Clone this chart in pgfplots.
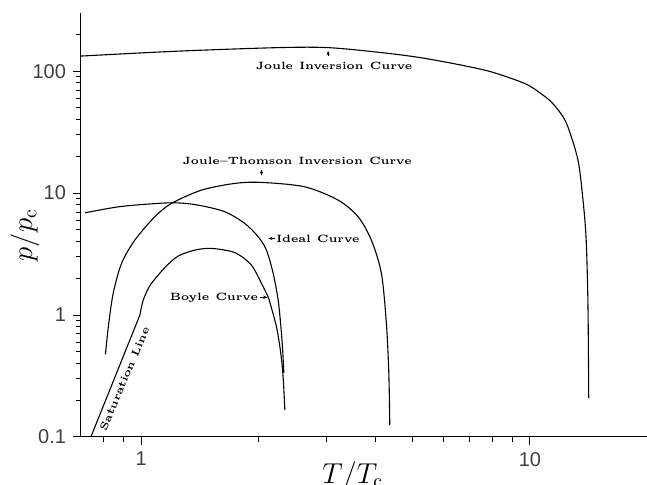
\documentclass[border=0pt]{standalone}
\usepackage{fontspec}
\usepackage{pgfplots}
\pgfplotsset{compat=1.18}
\usetikzlibrary{arrows.meta}
\newfontfamily\ticksf{Liberation Sans}
\newcommand\annot{\fontsize{5.3}{6}\selectfont\bfseries\spaceskip=0.6em\relax}
\begin{document}
\begin{tikzpicture}
\begin{axis}[
  scale only axis, width=283pt, height=212pt,
  xmode=log, ymode=log,
  xmin=0.7, xmax=20, ymin=0.1, ymax=300,
  axis x line=bottom, axis y line=left,
  axis line style={-, line width=0.5pt, black},
  tick align=outside,
  major tick length=4pt, minor tick length=2.5pt,
  every tick/.style={line width=0.5pt, black},
  xtick={1,10}, xticklabels={1,10},
  minor xtick={0.8,0.9,2,3,4,5,6,7,8,9},
  ytick={0.1,1,10,100}, yticklabels={0.1,1,10,100},
  minor ytick={0.2,0.3,0.4,0.5,0.6,0.7,0.8,0.9,2,3,4,5,6,7,8,9,20,30,40,50,60,70,80,90,200},
  ticklabel style={font=\ticksf\fontsize{10}{12}\selectfont, text=black!75},
  clip mode=individual,
  xlabel={$T/T_{\mathrm{c}}$}, ylabel={$p/p_{\mathrm{c}}$},
  label style={font=\fontsize{14}{16}\selectfont},
  xlabel style={at={(axis description cs:0.48,-0.1085)}, anchor=base},
  ylabel style={at={(axis description cs:-0.099,0.476)}, anchor=center},
  every axis plot/.append style={line width=0.55pt, smooth, no markers},
]
% Joule inversion curve
\addplot[black] table {
0.70 133
1.245 146
2.25 156
3.02 156
4.07 143
5.15 130
6.53 113.5
7.95 98.7
9.69 79.3
10.60 66.5
11.34 56.0
12.03 44.5
12.52 34.9
13.29 18.6
13.69 8.76
13.95 4.12
14.10 1.17
14.16 0.209
};
% Joule-Thomson inversion curve
\addplot[black] table {
0.809 0.476
0.823 0.802
0.847 1.506
0.890 2.653
0.963 4.12
1.084 6.40
1.196 8.23
1.429 10.58
1.741 12.01
2.039 12.24
2.635 11.26
3.210 8.76
3.613 6.40
3.908 4.12
4.147 2.197
4.272 0.855
4.334 0.333
4.359 0.1254
};
% Ideal curve
\addplot[black] table {
0.717 6.90
0.873 7.72
1.042 8.13
1.221 8.33
1.401 7.97
1.641 7.03
1.847 5.64
2.000 4.38
2.099 3.41
2.185 2.196
2.250 1.327
2.287 0.802
2.311 0.517
2.327 0.335
};
% Boyle curve
\addplot[black] table {
0.992 1.000
1.012 1.327
1.050 1.720
1.095 2.050
1.160 2.520
1.245 3.05
1.374 3.41
1.516 3.52
1.741 3.25
1.920 2.57
2.059 1.706
2.121 1.405
2.163 1.141
2.228 0.802
2.270 0.568
2.304 0.389
2.324 0.267
2.341 0.1665
};
% Saturation line
\addplot[black, sharp plot] table {
0.742 0.1
0.858 0.316
0.992 1.0
};
\node[font=\annot] at (axis cs:3.134,109.9) {Joule Inversion Curve};
\node[font=\annot] at (axis cs:2.518,18.4) {Joule--Thomson Inversion Curve};
\node[font=\annot, anchor=west, inner sep=0pt] at (axis cs:2.220,4.25) {Ideal Curve};
\node[font=\annot, anchor=east, inner sep=0pt] at (axis cs:2.0,1.397) {Boyle Curve};
\node[font=\annot, rotate=67] at (axis cs:0.905,0.30) {Saturation Line};
\draw[-{Stealth[length=2.2pt,width=1.6pt]}, line width=0.35pt] (axis cs:3.025,132.7) -- (axis cs:3.025,147);
\draw[-{Stealth[length=2.2pt,width=1.6pt]}, line width=0.35pt] (axis cs:2.039,15.44) -- (axis cs:2.039,13.9);
\draw[-{Stealth[length=2.2pt,width=1.6pt]}, line width=0.35pt] (axis cs:2.204,4.25) -- (axis cs:2.121,4.25);
\draw[-{Stealth[length=2.2pt,width=1.6pt]}, line width=0.35pt] (axis cs:2.023,1.397) -- (axis cs:2.114,1.397);
\coordinate (SW) at (rel axis cs:0,0);
\coordinate (NE) at (rel axis cs:1,1);
\end{axis}
\pgfresetboundingbox
\path ([shift={(-40.5pt,-24pt)}]SW) rectangle ([shift={(0pt,6.5pt)}]NE);
\end{tikzpicture}
\end{document}
